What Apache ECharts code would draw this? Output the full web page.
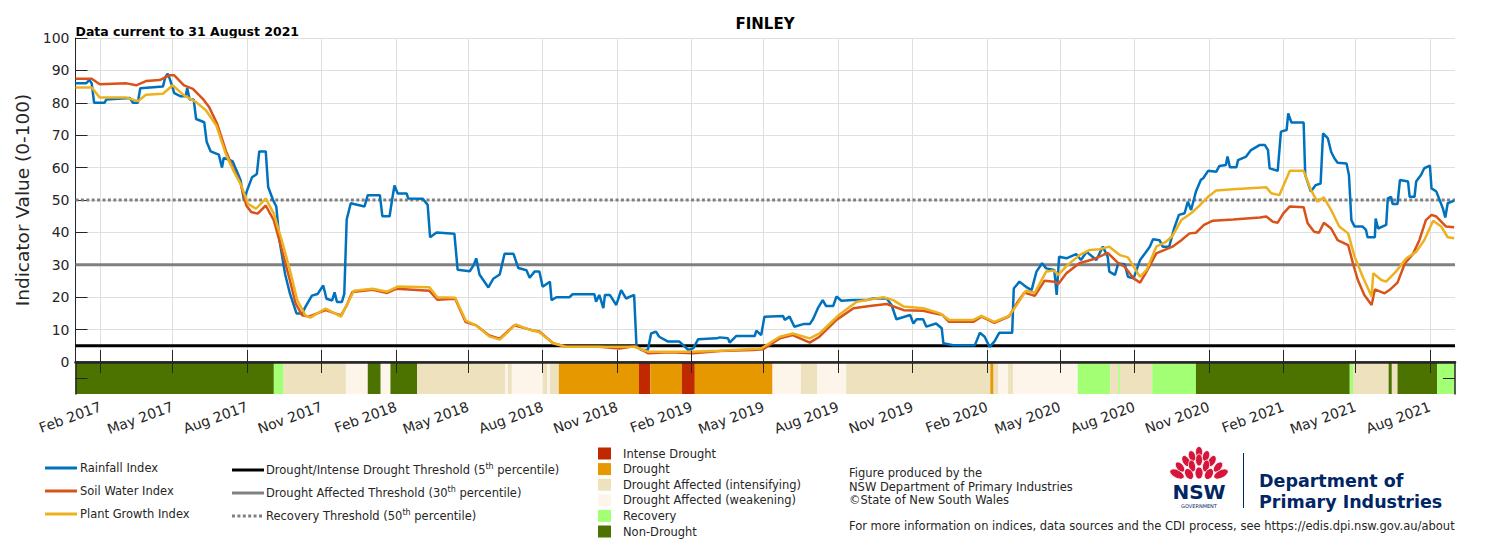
<!DOCTYPE html>
<html>
<head>
<meta charset="utf-8">
<title>FINLEY</title>
<script src="https://cdn.jsdelivr.net/npm/echarts@6.0.0/dist/echarts.min.js"></script>
<style>
  html, body { margin: 0; padding: 0; background: #fff; }
  #chart { width: 1500px; height: 541px; }
</style>
</head>
<body>
<div id="chart"></div>
<script>
// ---- data ----
const xStart = '2017-01-01';
const xEnd = '2021-09-01';

const tickDates = [
  '2017-02-01', '2017-05-01', '2017-08-01', '2017-11-01',
  '2018-02-01', '2018-05-01', '2018-08-01', '2018-11-01',
  '2019-02-01', '2019-05-01', '2019-08-01', '2019-11-01',
  '2020-02-01', '2020-05-01', '2020-08-01', '2020-11-01',
  '2021-02-01', '2021-05-01', '2021-08-01'
];
const tickLabels = [
  'Feb 2017', 'May 2017', 'Aug 2017', 'Nov 2017',
  'Feb 2018', 'May 2018', 'Aug 2018', 'Nov 2018',
  'Feb 2019', 'May 2019', 'Aug 2019', 'Nov 2019',
  'Feb 2020', 'May 2020', 'Aug 2020', 'Nov 2020',
  'Feb 2021', 'May 2021', 'Aug 2021'
];

const rainDates = [
  '2017-01-01', '2017-01-14', '2017-01-18', '2017-01-21', '2017-01-24', '2017-02-06', '2017-02-08', '2017-03-09',
  '2017-03-13', '2017-03-19', '2017-03-22', '2017-04-19', '2017-04-22', '2017-04-25', '2017-04-28', '2017-05-03',
  '2017-05-11', '2017-05-17', '2017-05-19', '2017-05-22', '2017-05-27', '2017-05-30', '2017-06-09', '2017-06-12',
  '2017-06-17', '2017-06-27', '2017-07-01', '2017-07-03', '2017-07-14', '2017-07-19', '2017-07-24', '2017-07-28',
  '2017-08-01', '2017-08-07', '2017-08-13', '2017-08-16', '2017-08-24', '2017-08-27', '2017-09-02', '2017-09-06',
  '2017-09-10', '2017-09-17', '2017-09-23', '2017-10-01', '2017-10-08', '2017-10-12', '2017-10-20', '2017-10-27',
  '2017-11-03', '2017-11-07', '2017-11-14', '2017-11-17', '2017-11-20', '2017-11-26', '2017-11-29', '2017-12-02',
  '2017-12-07', '2017-12-24', '2017-12-28', '2018-01-12', '2018-01-15', '2018-01-24', '2018-01-27', '2018-01-30',
  '2018-02-03', '2018-02-14', '2018-02-16', '2018-03-06', '2018-03-12', '2018-03-15', '2018-03-23', '2018-04-14',
  '2018-04-18', '2018-05-03', '2018-05-08', '2018-05-11', '2018-05-15', '2018-05-26', '2018-06-01', '2018-06-09',
  '2018-06-15', '2018-06-26', '2018-07-02', '2018-07-12', '2018-07-16', '2018-07-22', '2018-07-28', '2018-08-01',
  '2018-08-10', '2018-08-12', '2018-08-18', '2018-09-03', '2018-09-07', '2018-10-04', '2018-10-06', '2018-10-10',
  '2018-10-15', '2018-10-17', '2018-10-23', '2018-10-31', '2018-11-06', '2018-11-12', '2018-11-22', '2018-11-25',
  '2018-12-01', '2018-12-09', '2018-12-13', '2018-12-19', '2018-12-23', '2019-01-03', '2019-01-17', '2019-01-28',
  '2019-02-03', '2019-02-09', '2019-03-04', '2019-03-08', '2019-03-18', '2019-03-20', '2019-03-28', '2019-04-20',
  '2019-04-22', '2019-04-28', '2019-05-02', '2019-05-25', '2019-05-27', '2019-06-02', '2019-06-08', '2019-06-19',
  '2019-06-27', '2019-07-01', '2019-07-07', '2019-07-13', '2019-07-17', '2019-07-26', '2019-07-30', '2019-08-05',
  '2019-08-20', '2019-09-05', '2019-09-13', '2019-09-30', '2019-10-06', '2019-10-12', '2019-10-29', '2019-11-02',
  '2019-11-06', '2019-11-14', '2019-11-18', '2019-11-30', '2019-12-07', '2019-12-09', '2019-12-21', '2020-01-17',
  '2020-01-23', '2020-01-29', '2020-02-04', '2020-02-10', '2020-02-16', '2020-03-03', '2020-03-05', '2020-03-12',
  '2020-03-20', '2020-03-27', '2020-04-02', '2020-04-09', '2020-04-14', '2020-04-24', '2020-04-27', '2020-04-30',
  '2020-05-09', '2020-05-21', '2020-05-27', '2020-06-03', '2020-06-15', '2020-06-23', '2020-06-29', '2020-07-01',
  '2020-07-08', '2020-07-12', '2020-07-20', '2020-07-24', '2020-07-31', '2020-08-08', '2020-08-14', '2020-08-20',
  '2020-08-24', '2020-09-01', '2020-09-05', '2020-09-13', '2020-09-19', '2020-09-25', '2020-10-02', '2020-10-06',
  '2020-10-10', '2020-10-16', '2020-10-22', '2020-10-25', '2020-10-31', '2020-11-10', '2020-11-14', '2020-11-22',
  '2020-11-24', '2020-11-27', '2020-12-05', '2020-12-07', '2020-12-17', '2020-12-23', '2021-01-03', '2021-01-09',
  '2021-01-13', '2021-01-15', '2021-01-25', '2021-01-29', '2021-02-05', '2021-02-07', '2021-02-11', '2021-02-26',
  '2021-02-28', '2021-03-07', '2021-03-13', '2021-03-19', '2021-03-22', '2021-03-28', '2021-04-01', '2021-04-05',
  '2021-04-09', '2021-04-20', '2021-04-23', '2021-04-26', '2021-04-30', '2021-05-10', '2021-05-14', '2021-05-16',
  '2021-05-25', '2021-05-26', '2021-05-29', '2021-06-08', '2021-06-10', '2021-06-14', '2021-06-16', '2021-06-22',
  '2021-06-25', '2021-07-05', '2021-07-07', '2021-07-13', '2021-07-15', '2021-07-21', '2021-07-25', '2021-08-01',
  '2021-08-03', '2021-08-09', '2021-08-13', '2021-08-17', '2021-08-20', '2021-08-23', '2021-08-31'
];
const rainValues = [
  86, 86, 87, 86, 80, 80, 81, 81.5,
  80, 80, 84.5, 85, 88, 89, 87, 83,
  82, 82, 84.5, 81, 81, 75, 74, 68,
  65, 64, 60, 63, 62, 59, 56, 50,
  53, 57, 58, 65, 65, 54, 50, 48,
  37.5, 27, 21, 15, 15, 17, 20.5, 21,
  23.6, 19.5, 19, 21.5, 18.5, 18.5, 21, 44,
  49, 48, 51.5, 51.5, 45, 45, 50, 54.5,
  52, 52, 50.5, 50.4, 48.5, 38.5, 40, 39.6,
  28.5, 28, 30, 32, 27, 23, 25.7, 27,
  33.4, 33.4, 29, 28.3, 26, 27.9, 27.9, 23.2,
  24.8, 19.1, 20, 20, 20.9, 20.9, 18.6, 20.7,
  16.6, 20.7, 20.7, 17.6, 22.2, 19.6, 20.7, 4.7,
  3.7, 3.7, 8.8, 9.4, 7.8, 6.3, 6.3, 3.7,
  4.2, 7, 7.3, 7.6, 7.3, 6, 8, 8,
  9.7, 8.3, 14, 14.2, 13, 14, 10.9, 11.7,
  11.7, 13.2, 16.6, 19.1, 17.3, 17.3, 20.2, 18.9,
  19.1, 19.1, 19.6, 19.6, 17.6, 13.2, 14.5, 11.9,
  13.2, 13.2, 10.9, 11.9, 10.4, 5.8, 5.2, 5.2,
  9, 7.8, 4.7, 6.3, 9, 9, 22.7, 24.8,
  23.2, 22.2, 27.9, 30.5, 28.9, 28.4, 20.7, 32.5,
  32, 33.3, 31.5, 34, 31.5, 35.6, 32.5, 27.9,
  26.9, 30.4, 30.2, 26.3, 25.8, 31.5, 33.5, 35.6,
  37.9, 37.6, 35.6, 35.6, 41.2, 45.4, 45.9, 49.5,
  46.9, 52.6, 56.2, 56.7, 59, 58.7, 60.5, 60.8,
  63.4, 60.1, 60.1, 62.3, 63.4, 65.4, 67, 67,
  65.4, 59.8, 59, 71.1, 71.6, 76.7, 73.9, 73.9,
  57.7, 52.6, 54.6, 55.1, 70.6, 69, 64.9, 62.9,
  61.5, 61.3, 57.7, 43.8, 41.8, 41.8, 40.8, 38.5,
  38.5, 44.3, 41.2, 42.3, 50.5, 51, 48.8, 48.8,
  56.2, 55.7, 51, 51, 55.7, 57.7, 59.8, 60.6,
  53.6, 52.6, 50, 47.4, 44.6, 49, 49.8
];

const soilDates = [
  '2017-01-01', '2017-01-21', '2017-01-31', '2017-03-05', '2017-03-17', '2017-03-29', '2017-04-15', '2017-04-27',
  '2017-05-03', '2017-05-15', '2017-05-26', '2017-06-07', '2017-06-15', '2017-06-25', '2017-07-06', '2017-07-16',
  '2017-07-24', '2017-07-31', '2017-08-06', '2017-08-14', '2017-08-24', '2017-09-03', '2017-09-12', '2017-09-22',
  '2017-09-30', '2017-10-08', '2017-10-16', '2017-11-06', '2017-11-25', '2017-12-01', '2017-12-09', '2018-01-03',
  '2018-01-21', '2018-02-01', '2018-03-14', '2018-03-24', '2018-04-15', '2018-04-28', '2018-05-11', '2018-05-27',
  '2018-06-09', '2018-06-27', '2018-07-12', '2018-07-20', '2018-07-28', '2018-08-14', '2018-08-30', '2018-10-10',
  '2018-11-04', '2018-11-24', '2018-12-09', '2019-01-05', '2019-02-03', '2019-03-08', '2019-04-18', '2019-04-30',
  '2019-05-21', '2019-06-06', '2019-06-27', '2019-07-09', '2019-07-30', '2019-08-20', '2019-09-09', '2019-09-30',
  '2019-10-21', '2019-11-14', '2019-12-08', '2019-12-16', '2020-01-15', '2020-01-25', '2020-02-10', '2020-02-28',
  '2020-03-10', '2020-03-18', '2020-03-31', '2020-04-12', '2020-04-24', '2020-04-29', '2020-05-09', '2020-05-25',
  '2020-06-11', '2020-06-23', '2020-06-29', '2020-07-12', '2020-07-20', '2020-07-31', '2020-08-08', '2020-08-16',
  '2020-08-28', '2020-09-17', '2020-09-28', '2020-10-08', '2020-10-16', '2020-10-26', '2020-11-06', '2020-12-01',
  '2021-01-03', '2021-01-11', '2021-01-19', '2021-01-25', '2021-02-01', '2021-02-09', '2021-02-26', '2021-03-03',
  '2021-03-11', '2021-03-17', '2021-03-23', '2021-04-01', '2021-04-09', '2021-04-22', '2021-04-28', '2021-05-04',
  '2021-05-12', '2021-05-21', '2021-05-25', '2021-06-06', '2021-06-12', '2021-06-22', '2021-07-01', '2021-07-11',
  '2021-07-19', '2021-07-27', '2021-08-03', '2021-08-09', '2021-08-21', '2021-08-31'
];
const soilValues = [
  87.4, 87.4, 85.7, 86, 85.4, 86.7, 87, 88.5,
  88.5, 85.4, 84.3, 81.3, 78.7, 73.5, 65, 59,
  55, 48.3, 46.3, 45.8, 48.3, 43.7, 35.5, 26,
  18, 14.4, 14, 16, 14.4, 17, 21.6, 22.3,
  21.3, 22.6, 22, 19.2, 19.5, 12.3, 11.3, 8.2,
  7.2, 11.3, 10.3, 9.7, 9.4, 5.8, 4.7, 4.7,
  4.2, 4.9, 2.7, 3, 2.7, 3.4, 3.7, 3.9,
  7.3, 8.3, 6, 7.8, 13, 16.6, 17.3, 17.9,
  16, 15.8, 14.5, 12.4, 12.4, 14, 12.1, 14,
  18.6, 21.4, 20.4, 25.1, 24.8, 24.1, 27.4, 30.5,
  31.7, 33, 33.7, 30.5, 29.4, 25.8, 24.5, 27.9,
  33.5, 35.6, 37.6, 39.7, 39.9, 42.3, 43.6, 44,
  44.6, 44.9, 43.3, 43, 45.9, 48, 47.8, 42.8,
  40.2, 39.9, 43, 41.2, 37.6, 36.1, 30.4, 25.3,
  20.7, 17.6, 22.4, 21.2, 22.2, 24.5, 30.4, 33.3,
  37.6, 43.8, 45.4, 44.9, 41.8, 41.6
];

const plantDates = [
  '2017-01-01', '2017-01-21', '2017-01-31', '2017-03-05', '2017-03-19', '2017-03-29', '2017-04-19', '2017-05-01',
  '2017-05-15', '2017-05-30', '2017-06-11', '2017-06-24', '2017-07-06', '2017-07-16', '2017-07-24', '2017-08-02',
  '2017-08-12', '2017-08-24', '2017-09-03', '2017-09-14', '2017-09-24', '2017-10-02', '2017-10-12', '2017-10-18',
  '2017-11-06', '2017-11-25', '2017-12-03', '2017-12-11', '2018-01-03', '2018-01-21', '2018-02-03', '2018-03-14',
  '2018-03-24', '2018-04-15', '2018-04-28', '2018-05-11', '2018-05-27', '2018-06-09', '2018-06-29', '2018-07-12',
  '2018-07-28', '2018-08-14', '2018-08-30', '2018-11-22', '2018-12-09', '2019-01-31', '2019-03-08', '2019-04-28',
  '2019-05-21', '2019-06-06', '2019-06-27', '2019-07-09', '2019-08-02', '2019-08-24', '2019-09-26', '2019-10-08',
  '2019-10-21', '2019-11-14', '2019-12-05', '2019-12-16', '2020-01-15', '2020-01-25', '2020-02-10', '2020-02-28',
  '2020-03-10', '2020-03-20', '2020-03-31', '2020-04-14', '2020-04-24', '2020-04-29', '2020-05-09', '2020-05-25',
  '2020-06-07', '2020-06-19', '2020-07-01', '2020-07-14', '2020-07-24', '2020-08-08', '2020-08-16', '2020-08-28',
  '2020-09-09', '2020-09-17', '2020-09-28', '2020-10-10', '2020-10-20', '2020-10-31', '2020-11-10', '2020-12-01',
  '2021-01-11', '2021-01-17', '2021-01-27', '2021-02-09', '2021-02-26', '2021-03-07', '2021-03-15', '2021-03-23',
  '2021-04-01', '2021-04-11', '2021-04-22', '2021-04-30', '2021-05-10', '2021-05-21', '2021-05-23', '2021-06-02',
  '2021-06-08', '2021-06-20', '2021-07-03', '2021-07-15', '2021-07-25', '2021-08-05', '2021-08-15', '2021-08-23',
  '2021-08-31'
];
const plantValues = [
  84.7, 84.7, 81.6, 81.6, 80.5, 82.5, 82.8, 85.4,
  82.3, 80.2, 77.7, 73, 64, 58.6, 55, 48.8,
  47.3, 50.4, 45.8, 36.5, 27.2, 19, 14.4, 13.7,
  16.5, 14, 18, 22, 22.6, 21.7, 23.3, 23.1,
  20, 19.8, 12.8, 11.3, 7.9, 6.9, 11.6, 10.3,
  9.2, 5.8, 4.7, 4.7, 3.2, 3.2, 3.5, 4.2,
  7.8, 8.8, 7.3, 8.8, 14.5, 18.6, 20, 19.1,
  17.1, 16.6, 15, 13, 13, 14.2, 12.4, 14.2,
  18.1, 22, 21.4, 27.9, 28.2, 26.9, 29.6, 33,
  34.6, 34.8, 35.6, 33, 32.3, 26.3, 28.4, 35.6,
  37.1, 38.9, 43.8, 45.9, 48.2, 51, 52.9, 53.3,
  53.9, 52.1, 51.5, 59, 59, 53.1, 49.5, 50.8,
  46.9, 41.8, 39.7, 32.5, 26.3, 20.2, 27.4, 25.3,
  24.8, 27.9, 32, 34, 37.6, 43.6, 41.8, 38.5,
  38.2
];

// thresholds: 5th, 30th and 50th percentile
const thresholdValues = [5, 30, 50];
const thresholdNames = [
  'Drought/Intense Drought Threshold (5',
  'Drought Affected Threshold (30',
  'Recovery Threshold (50'
];

// drought category strip: start date of each run and its category
const bandNames = [
  'Intense Drought', 'Drought', 'Drought Affected (intensifying)',
  'Drought Affected (weakening)', 'Recovery', 'Non-Drought'
];
const bandStarts = [
  '2017-01-01', '2017-09-03', '2017-09-15', '2017-12-01', '2017-12-28', '2018-01-13', '2018-01-25', '2018-02-27',
  '2018-06-16', '2018-06-19', '2018-06-24', '2018-08-01', '2018-08-07', '2018-08-10', '2018-08-21', '2018-11-28',
  '2018-12-12', '2019-01-20', '2019-02-05', '2019-05-12', '2019-06-16', '2019-07-06', '2019-08-11', '2020-02-05',
  '2020-02-09', '2020-02-15', '2020-02-27', '2020-03-04', '2020-05-23', '2020-07-02', '2020-07-12', '2020-07-14',
  '2020-08-23', '2020-10-16', '2021-04-24', '2021-04-28', '2021-06-11', '2021-06-15', '2021-06-22', '2021-08-10'
];
const bandClasses = [
  5, 4, 2, 3, 5, 3, 5, 2,
  3, 2, 3, 2, 3, 2, 1, 0,
  1, 0, 1, 3, 2, 3, 2, 1,
  2, 3, 2, 3, 4, 2, 4, 2,
  4, 5, 4, 2, 5, 2, 5, 4
];

// ---- styling ----
const FONT = 'DejaVu Sans';
const INK = '#262626';
const GRID = '#dfdfdf';
const RAIN = '#0072BD';
const SOIL = '#D95319';
const PLANT = '#EDB120';
const LEGEND_SIZE = 11.5;
const bandColors = ['#C02800', '#E69800', '#EDE1BE', '#FDF5EA', '#A3FF73', '#4C7300'];
const thresholdStyles = [
  { color: '#000000', type: 'solid' },
  { color: '#808080', type: 'solid' },
  { color: '#808080', type: [3, 2.4] }
];

const toTime = s => echarts.number.parseDate(s).getTime();
const tickTimes = tickDates.map(toTime);
const tickText = v => {
  const i = tickTimes.indexOf(v);
  return i >= 0 ? tickLabels[i] : '';
};
const tMin = toTime(xStart);
const tMax = toTime(xEnd);

const pairs = (dates, values) => dates.map((d, i) => [toTime(d), values[i]]);
const bandData = bandStarts.map((s, i) => [
  toTime(s), toTime(i + 1 < bandStarts.length ? bandStarts[i + 1] : xEnd), bandClasses[i]
]);

const chart = echarts.init(document.getElementById('chart'), null, { renderer: 'svg' });

const plotLeft = 75.5;
const plotRight = 45;

// legend / footer graphics
const graphics = [];
graphics.push({
  type: 'text', x: 765, y: 24,
  style: { text: 'FINLEY', align: 'center', verticalAlign: 'middle', fontSize: 15, fontWeight: 'bold', fontFamily: FONT, fill: '#000' }
});
graphics.push({
  type: 'text', x: 75.5, y: 31,
  style: { text: 'Data current to 31 August 2021', verticalAlign: 'middle', fontSize: 12.5, fontWeight: 'bold', fontFamily: FONT, fill: '#000' }
});

[['Rainfall Index', RAIN], ['Soil Water Index', SOIL], ['Plant Growth Index', PLANT]].forEach(([label, color], i) => {
  const y = 468 + i * 23;
  graphics.push({ type: 'line', shape: { x1: 45, y1: y, x2: 77, y2: y }, style: { stroke: color, lineWidth: 3 } });
  graphics.push({ type: 'text', x: 80, y: y, style: { text: label, verticalAlign: 'middle', fontSize: LEGEND_SIZE, fontFamily: FONT, fill: INK } });
});

thresholdNames.forEach((label, i) => {
  const y = 470 + i * 23;
  graphics.push({
    type: 'line', shape: { x1: 232, y1: y, x2: 264, y2: y },
    style: { stroke: thresholdStyles[i].color, lineWidth: 3, lineDash: i === 2 ? [3, 2.4] : null }
  });
  graphics.push({
    type: 'text', x: 266, y: y,
    style: {
      text: '{a|' + label + '}{s|th}{a| percentile)}',
      verticalAlign: 'middle',
      rich: {
        a: { fontSize: LEGEND_SIZE, fontFamily: FONT, fill: INK, lineHeight: 16 },
        s: { fontSize: 8, fontFamily: FONT, fill: INK, verticalAlign: 'top', lineHeight: 16 }
      }
    }
  });
});

bandNames.forEach((label, i) => {
  const y = 453.5 + i * 15.6;
  graphics.push({ type: 'rect', shape: { x: 598, y: y - 6, width: 13, height: 12 }, style: { fill: bandColors[i] } });
  graphics.push({ type: 'text', x: 623, y: y, style: { text: label, verticalAlign: 'middle', fontSize: LEGEND_SIZE, fontFamily: FONT, fill: INK, lineHeight: 15 } });
});

['Figure produced by the', 'NSW Department of Primary Industries', '\u00A9State of New South Wales'].forEach((t, i) => {
  graphics.push({ type: 'text', x: 849, y: 473 + i * 13.7, style: { text: t, verticalAlign: 'middle', fontSize: LEGEND_SIZE, fontFamily: FONT, fill: INK, lineHeight: 13.5 } });
});
graphics.push({
  type: 'text', x: 849, y: 526,
  style: { text: 'For more information on indices, data sources and the CDI process, see https://edis.dpi.nsw.gov.au/about', verticalAlign: 'middle', fontSize: LEGEND_SIZE, fontFamily: FONT, fill: INK }
});

// NSW waratah, roughly
const NAVY = '#002664';
const WARATAH = '#D7153A';
const petals = [
  [1199, 452, 3.5, 5.5, 0],
  [1192, 456, 3.5, 5.5, 0.3], [1206, 456, 3.5, 5.5, -0.3],
  [1186, 461, 3.5, 6, 0.5], [1199, 460, 3.5, 6, 0], [1212, 461, 3.5, 6, -0.5],
  [1180, 467, 3.5, 6, 0.7], [1192, 466, 3.5, 6, 0.2], [1206, 466, 3.5, 6, -0.2], [1218, 467, 3.5, 6, -0.7],
  [1177, 474, 4, 8, 1.1], [1189, 474, 4, 6, 0.5], [1199, 473, 4, 6, 0], [1209, 474, 4, 6, -0.5], [1221, 474, 4, 8, -1.1]
];
petals.forEach(([x, y, sx, sy, r]) => {
  graphics.push({
    type: 'circle', x: x, y: y, scaleX: sx, scaleY: sy, rotation: r,
    shape: { cx: 0, cy: 0, r: 1 }, style: { fill: WARATAH, stroke: '#fff', lineWidth: 0.15 }
  });
});
graphics.push({ type: 'text', x: 1199, y: 492, style: { text: 'NSW', align: 'center', verticalAlign: 'middle', fontSize: 20, fontWeight: 'bold', fontFamily: FONT, fill: NAVY, lineHeight: 18 } });
graphics.push({ type: 'text', x: 1199, y: 506, style: { text: 'GOVERNMENT', align: 'center', verticalAlign: 'middle', fontSize: 5, fontFamily: FONT, fill: NAVY, lineHeight: 6 } });
graphics.push({ type: 'line', shape: { x1: 1243.5, y1: 453, x2: 1243.5, y2: 508 }, style: { stroke: NAVY, lineWidth: 1 } });
graphics.push({ type: 'text', x: 1259, y: 480.5, style: { text: 'Department of', verticalAlign: 'middle', fontSize: 17.5, fontWeight: 'bold', fontFamily: FONT, fill: NAVY, lineHeight: 20 } });
graphics.push({ type: 'text', x: 1259, y: 502, style: { text: 'Primary Industries', verticalAlign: 'middle', fontSize: 17.5, fontWeight: 'bold', fontFamily: FONT, fill: NAVY, lineHeight: 20 } });

const dateAxis = (extra) => Object.assign({
  type: 'value',
  min: tMin,
  max: tMax,
  splitLine: { show: false },
  axisLabel: { show: false },
  axisTick: { show: true, inside: true, length: 11, customValues: tickTimes, lineStyle: { color: INK, width: 1 } },
  axisLine: { show: false }
}, extra);

const option = {
  animation: false,
  backgroundColor: '#fff',
  graphic: graphics,
  grid: [
    { left: plotLeft, right: plotRight, top: 38, height: 324 },
    { left: plotLeft, right: plotRight, top: 362, height: 32 }
  ],
  xAxis: [
    dateAxis({
      gridIndex: 0,
      axisTick: { show: true, inside: true, length: 12, customValues: tickTimes, lineStyle: { color: INK, width: 1 } },
      splitLine: { show: true, lineStyle: { color: GRID, width: 1 } }
    }),
    dateAxis({
      gridIndex: 1,
      position: 'bottom',
      z: 10,
      axisLine: { show: true, lineStyle: { color: INK, width: 1.5 } },
      axisLabel: {
        show: true, customValues: tickTimes, rotate: 20, margin: 12,
        fontSize: 14, fontFamily: FONT, color: INK, formatter: tickText
      }
    }),
    dateAxis({
      gridIndex: 1,
      position: 'top',
      z: 10,
      axisLine: { show: true, lineStyle: { color: INK, width: 2.5 } }
    })
  ],
  yAxis: [
    {
      type: 'value', gridIndex: 0, min: 0, max: 100, interval: 10,
      name: 'Indicator Value (0-100)', nameLocation: 'middle', nameGap: 28,
      nameTextStyle: { fontSize: 18.5, fontFamily: FONT, color: INK },
      axisLine: { show: true, lineStyle: { color: INK, width: 1 } },
      axisTick: { show: true, inside: true, length: 12, lineStyle: { color: INK } },
      axisLabel: { fontSize: 14, fontFamily: FONT, color: INK, margin: 6 },
      splitLine: { show: true, lineStyle: { color: GRID, width: 1 } }
    },
    {
      type: 'value', gridIndex: 1, min: -10, max: 0, z: 10,
      axisLine: { show: true, lineStyle: { color: INK, width: 1.5 } },
      axisTick: { show: true, inside: true, length: 12, customValues: [-5], lineStyle: { color: INK } },
      axisLabel: { show: false },
      splitLine: { show: false }
    },
    {
      type: 'value', gridIndex: 1, min: -10, max: 0, position: 'right', z: 10,
      axisLine: { show: true, lineStyle: { color: INK, width: 1.5 } },
      axisTick: { show: true, inside: true, length: 12, customValues: [-5], lineStyle: { color: INK } },
      axisLabel: { show: false },
      splitLine: { show: false }
    }
  ],
  series: [
    {
      name: 'Drought category',
      type: 'custom',
      xAxisIndex: 1,
      yAxisIndex: 1,
      silent: true,
      encode: { x: [0, 1] },
      data: bandData,
      renderItem: (params, api) => {
        const a = api.coord([api.value(0), 0]);
        const b = api.coord([api.value(1), -10]);
        return {
          type: 'rect',
          shape: { x: a[0], y: a[1], width: b[0] - a[0], height: b[1] - a[1] },
          style: { fill: bandColors[api.value(2)] }
        };
      }
    },
    ...thresholdValues.map((t, i) => ({
      name: thresholdNames[i] + 'th percentile)',
      type: 'line',
      xAxisIndex: 0,
      yAxisIndex: 0,
      z: 2,
      silent: true,
      showSymbol: false,
      data: [[tMin, t], [tMax, t]],
      lineStyle: { color: thresholdStyles[i].color, width: 3, type: thresholdStyles[i].type }
    })),
    {
      name: 'Rainfall Index', type: 'line', z: 3, showSymbol: false, silent: true,
      data: pairs(rainDates, rainValues),
      lineStyle: { color: RAIN, width: 2.5 }
    },
    {
      name: 'Soil Water Index', type: 'line', z: 3, showSymbol: false, silent: true,
      data: pairs(soilDates, soilValues),
      lineStyle: { color: SOIL, width: 2.5 }
    },
    {
      name: 'Plant Growth Index', type: 'line', z: 3, showSymbol: false, silent: true,
      data: pairs(plantDates, plantValues),
      lineStyle: { color: PLANT, width: 2.5 }
    }
  ]
};

chart.setOption(option);
</script>
</body>
</html>
